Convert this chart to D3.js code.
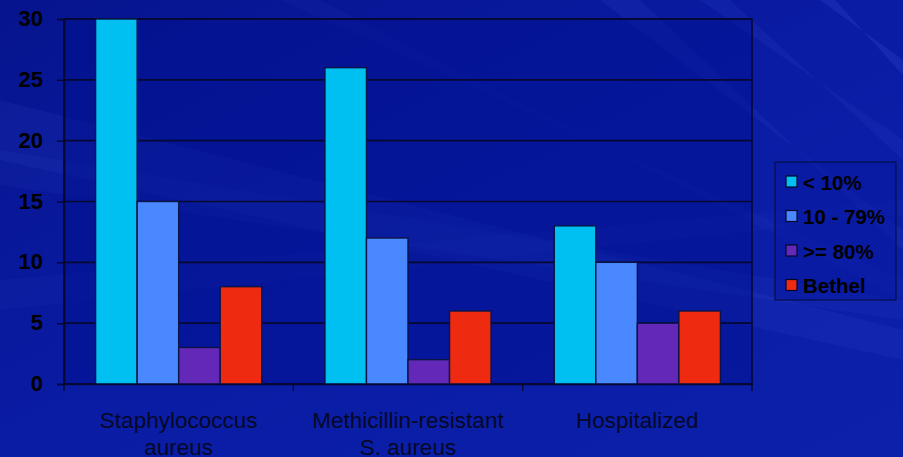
<!DOCTYPE html>
<html>
<head>
<meta charset="utf-8">
<script src="https://cdn.jsdelivr.net/npm/d3@7"></script>
<style>
  html, body { margin: 0; padding: 0; background: #0a1aa0; }
  svg { display: block; }
</style>
</head>
<body>
<svg id="chart" width="903" height="457"></svg>
<script>
// Chart data
const categories = [["Staphylococcus", "aureus"], ["Methicillin-resistant", "S. aureus"], ["Hospitalized"]];
const seriesNames = ["< 10%", "10 - 79%", ">= 80%", "Bethel"];
const seriesColors = ["#00c0f2", "#4a88ff", "#6428b8", "#ee2a10"];
const valuesLow = [30, 26, 13];      // < 10%
const valuesMid = [15, 12, 10];      // 10 - 79%
const valuesHigh = [3, 2, 5];        // >= 80%
const valuesBethel = [8, 6, 6];      // Bethel
const yTicks = [0, 5, 10, 15, 20, 25, 30];

const series = [valuesLow, valuesMid, valuesHigh, valuesBethel];

const W = 903, H = 457;
const FONT = "Liberation Sans, Arial, sans-serif";
const svg = d3.select("#chart");
const defs = svg.append("defs");

// Backdrop: deep blue with soft diagonal light streaks
const bg = defs.append("linearGradient").attr("id", "bg")
  .attr("x1", "0").attr("y1", "0").attr("x2", "1").attr("y2", "1");
bg.append("stop").attr("offset", "0").attr("stop-color", "#06148e");
bg.append("stop").attr("offset", "0.5").attr("stop-color", "#0a1ca4");
bg.append("stop").attr("offset", "1").attr("stop-color", "#0c20aa");
svg.append("rect").attr("width", W).attr("height", H).attr("fill", "url(#bg)");

const streaks = [
  { pts: [[0, 100], [903, 330], [903, 360], [0, 160]], o: 0.07 },
  { pts: [[0, 150], [903, 300], [903, 320], [0, 185]], o: 0.05 },
  { pts: [[0, 280], [903, 200], [903, 215], [0, 310]], o: 0.04 },
  { pts: [[600, 0], [903, 230], [903, 250], [640, 0]], o: 0.08 },
  { pts: [[700, 0], [903, 140], [903, 160], [730, 0]], o: 0.07 },
  { pts: [[820, 0], [903, 60], [903, 75], [835, 0]], o: 0.12 },
  { pts: [[280, 0], [903, 280], [903, 300], [320, 0]], o: 0.04 }
];
svg.append("g").selectAll("polygon").data(streaks).join("polygon")
  .attr("points", d => d.pts.map(p => p.join(",")).join(" "))
  .attr("fill", "#6a80ff").attr("opacity", d => d.o);

const margin = { left: 64, top: 19, right: 151, bottom: 73 };
const plotW = W - margin.left - margin.right;
const plotH = H - margin.top - margin.bottom;

const x0 = d3.scaleBand().domain(d3.range(categories.length)).range([0, plotW]).paddingInner(0).paddingOuter(0);
const x1 = d3.scaleBand().domain(d3.range(series.length)).range([31.6, x0.bandwidth() - 31.6]).padding(0);
const y = d3.scaleLinear().domain([0, 30]).range([plotH, 0]);

const g = svg.append("g").attr("transform", `translate(${margin.left},${margin.top})`);

// Plot area
g.append("rect").attr("width", plotW).attr("height", plotH)
  .attr("fill", "#00108e").attr("opacity", 0.45);

// Horizontal grid
g.append("g").selectAll("line").data(yTicks).join("line")
  .attr("x1", 0).attr("x2", plotW)
  .attr("y1", d => y(d)).attr("y2", d => y(d))
  .attr("stroke", "#050830").attr("stroke-width", 1.6);

// Plot frame
g.append("rect").attr("width", plotW).attr("height", plotH)
  .attr("fill", "none").attr("stroke", "#050830").attr("stroke-width", 1.6);

// Bars
const groups = g.append("g").selectAll("g").data(categories).join("g")
  .attr("transform", (d, i) => `translate(${x0(i)},0)`);
groups.selectAll("rect").data((d, i) => series.map((s, k) => ({ k, v: s[i] }))).join("rect")
  .attr("x", d => x1(d.k))
  .attr("width", x1.bandwidth())
  .attr("y", d => y(d.v))
  .attr("height", d => plotH - y(d.v))
  .attr("fill", d => seriesColors[d.k])
  .attr("stroke", "#0a1448").attr("stroke-width", 1.4);

// Y axis
const yAxis = g.append("g").call(d3.axisLeft(y).tickValues(yTicks).tickSize(7).tickPadding(14));
yAxis.select(".domain").attr("stroke", "#050830").attr("stroke-width", 1.6);
yAxis.selectAll(".tick line").attr("stroke", "#050830").attr("stroke-width", 1.4);
yAxis.selectAll(".tick text")
  .attr("fill", "#000000").attr("font-family", FONT)
  .attr("font-size", 22).attr("font-weight", "bold")
  .attr("dy", "0.3em");

// X axis
const xAxis = g.append("g").attr("transform", `translate(0,${plotH})`)
  .call(d3.axisBottom(x0).tickSize(0).tickFormat(""));
xAxis.select(".domain").attr("stroke", "#050830").attr("stroke-width", 1.6);
g.append("g").selectAll("line").data(d3.range(categories.length + 1)).join("line")
  .attr("x1", i => i * x0.bandwidth()).attr("x2", i => i * x0.bandwidth())
  .attr("y1", plotH).attr("y2", plotH + 7)
  .attr("stroke", "#050830").attr("stroke-width", 1.4);

const xLabels = g.append("g").selectAll("text").data(categories).join("text")
  .attr("x", (d, i) => x0(i) + x0.bandwidth() / 2)
  .attr("y", plotH + 44)
  .attr("text-anchor", "middle")
  .attr("fill", "#060828")
  .attr("font-family", FONT)
  .attr("font-size", 22.5);
xLabels.selectAll("tspan").data(d => d).join("tspan")
  .attr("x", function () { return d3.select(this.parentNode).attr("x"); })
  .attr("dy", (d, i) => i === 0 ? 0 : 27)
  .text(d => d);

// Legend
const legend = svg.append("g").attr("transform", "translate(775,162)");
legend.append("rect").attr("width", 121).attr("height", 138)
  .attr("fill", "#0818a0").attr("fill-opacity", 0.5)
  .attr("stroke", "#06104a").attr("stroke-width", 1.2);
const items = legend.selectAll("g").data(seriesNames).join("g")
  .attr("transform", (d, i) => `translate(11,${20 + i * 34.5})`);
items.append("rect").attr("x", 0).attr("y", -6).attr("width", 11).attr("height", 11)
  .attr("fill", (d, i) => seriesColors[i]).attr("stroke", "#05082a").attr("stroke-width", 1.2);
items.append("text").attr("x", 17).attr("y", 7.5)
  .attr("fill", "#000000").attr("font-family", FONT)
  .attr("font-size", 20.5).attr("font-weight", "bold")
  .text(d => d);
</script>
</body>
</html>
